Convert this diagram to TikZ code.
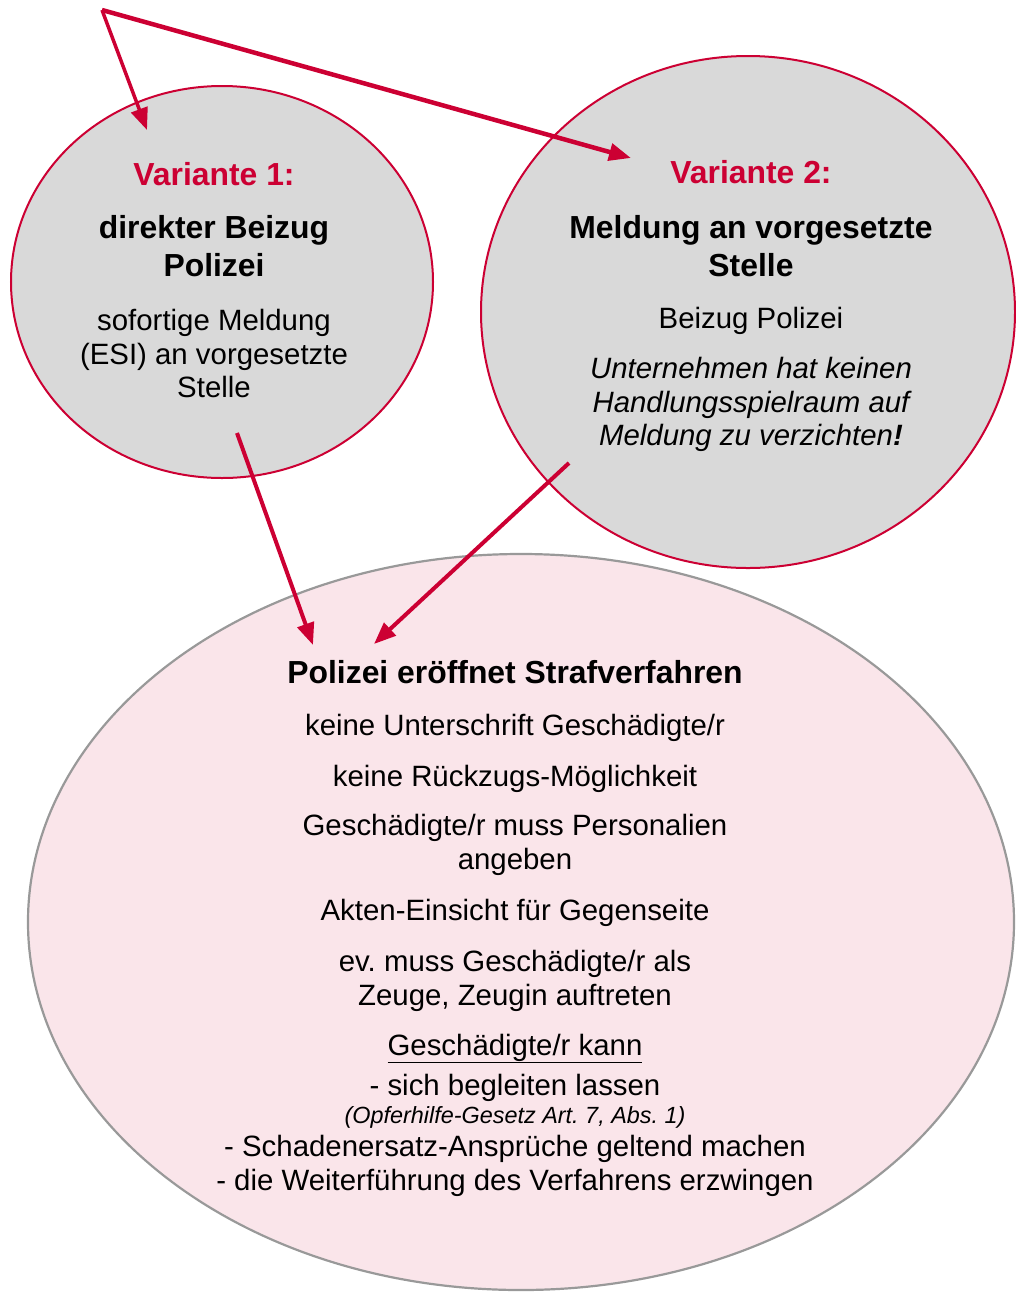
\documentclass[tikz,border=0pt]{standalone}
\usepackage{fontspec}
\setmainfont{Liberation Sans}
\usetikzlibrary{shapes.geometric,arrows.meta}
\definecolor{crim}{HTML}{CC0033}
\definecolor{greyfill}{HTML}{D9D9D9}
\definecolor{pinkfill}{HTML}{FAE5EA}
\definecolor{rimgrey}{HTML}{999999}
\frenchspacing
\begin{document}
\begin{tikzpicture}[x=1bp,y=-1bp,
  bubble/.style={ellipse, draw=crim, line width=2bp, fill=greyfill, inner sep=0pt},
  bigbubble/.style={ellipse, draw=rimgrey, line width=2.2bp, fill=pinkfill, inner sep=0pt},
  txt/.style={anchor=base, inner sep=0pt, font=\fontsize{29.5}{34}\selectfont},
  smalltxt/.style={anchor=base, inner sep=0pt, font=\fontsize{23.5}{27}\selectfont\itshape},
  itxt/.style={txt, font=\fontsize{29.5}{34}\selectfont\itshape},
  head/.style={anchor=base, inner sep=0pt, font=\fontsize{32}{37}\selectfont\bfseries},
  varhead/.style={head, text=crim},
  arr/.style={draw=crim, line width=4bp, -{Triangle[length=22bp,width=17bp]}},
]
\useasboundingbox (0,0) rectangle (1016,1292);

% ellipses
\node[bubble, minimum width=422bp, minimum height=392bp] (e1) at (222,282) {};
\node[bubble, minimum width=534bp, minimum height=512bp] (e2) at (748,312) {};
\node[bigbubble, minimum width=986bp, minimum height=736bp] (e3) at (521,922) {};

% texts ellipse 1
\node[varhead] (v1) at (214,185) {Variante 1:};
\node[head] (v1a) at (214,238) {direkter Beizug};
\node[head] (v1b) at (214,276) {Polizei};
\node[txt] (v1c) at (214,330) {sofortige Meldung};
\node[txt] (v1d) at (214,364) {(ESI) an vorgesetzte};
\node[txt] (v1e) at (214,397) {Stelle};

% texts ellipse 2
\node[varhead] (v2) at (751,183) {Variante 2:};
\node[head] (v2a) at (751,238) {Meldung an vorgesetzte};
\node[head] (v2b) at (751,276) {Stelle};
\node[txt] (v2c) at (751,328) {Beizug Polizei};
\node[itxt] (v2d) at (751,378) {Unternehmen hat keinen};
\node[itxt] (v2e) at (751,412) {Handlungsspielraum auf};
\node[itxt] (v2f) at (751,445) {Meldung zu verzichten\textbf{!}};

% texts ellipse 3
\node[head] (p0) at (515,683) {Polizei eröffnet Strafverfahren};
\node[txt] (p1) at (515,735) {keine Unterschrift Geschädigte/r};
\node[txt] (p2) at (515,786) {keine Rückzugs-Möglichkeit};
\node[txt] (p3) at (515,835) {Geschädigte/r muss Personalien};
\node[txt] (p4) at (515,869) {angeben};
\node[txt] (p5) at (515,920) {Akten-Einsicht für Gegenseite};
\node[txt] (p6) at (515,971) {ev. muss Geschädigte/r als};
\node[txt] (p7) at (515,1005) {Zeuge, Zeugin auftreten};
\node[txt] (p8) at (515,1055) {\underline{Geschädigte/r kann}};
\node[txt] (p9) at (515,1095) {- sich begleiten lassen};
\node[smalltxt] (p10) at (515,1123) {(Opferhilfe-Gesetz Art. 7, Abs. 1)};
\node[txt] (p11) at (515,1156) {- Schadenersatz-Ansprüche geltend machen};
\node[txt] (p12) at (515,1190) {- die Weiterführung des Verfahrens erzwingen};

% arrow end points
\coordinate (src) at (102,10);
\coordinate (t1) at (147,130);
\coordinate (t2) at (631,158);
\coordinate (s3) at (237,433);
\coordinate (t3) at (313,645);
\coordinate (s4) at (569,463);
\coordinate (t4) at (374,644);

\draw[arr, line width=3.5bp] (src) -- (t1);
\draw[arr, line width=4.5bp] (src) -- (t2);
\draw[arr] (s3) -- (t3);
\draw[arr] (s4) -- (t4);
\end{tikzpicture}
\end{document}
